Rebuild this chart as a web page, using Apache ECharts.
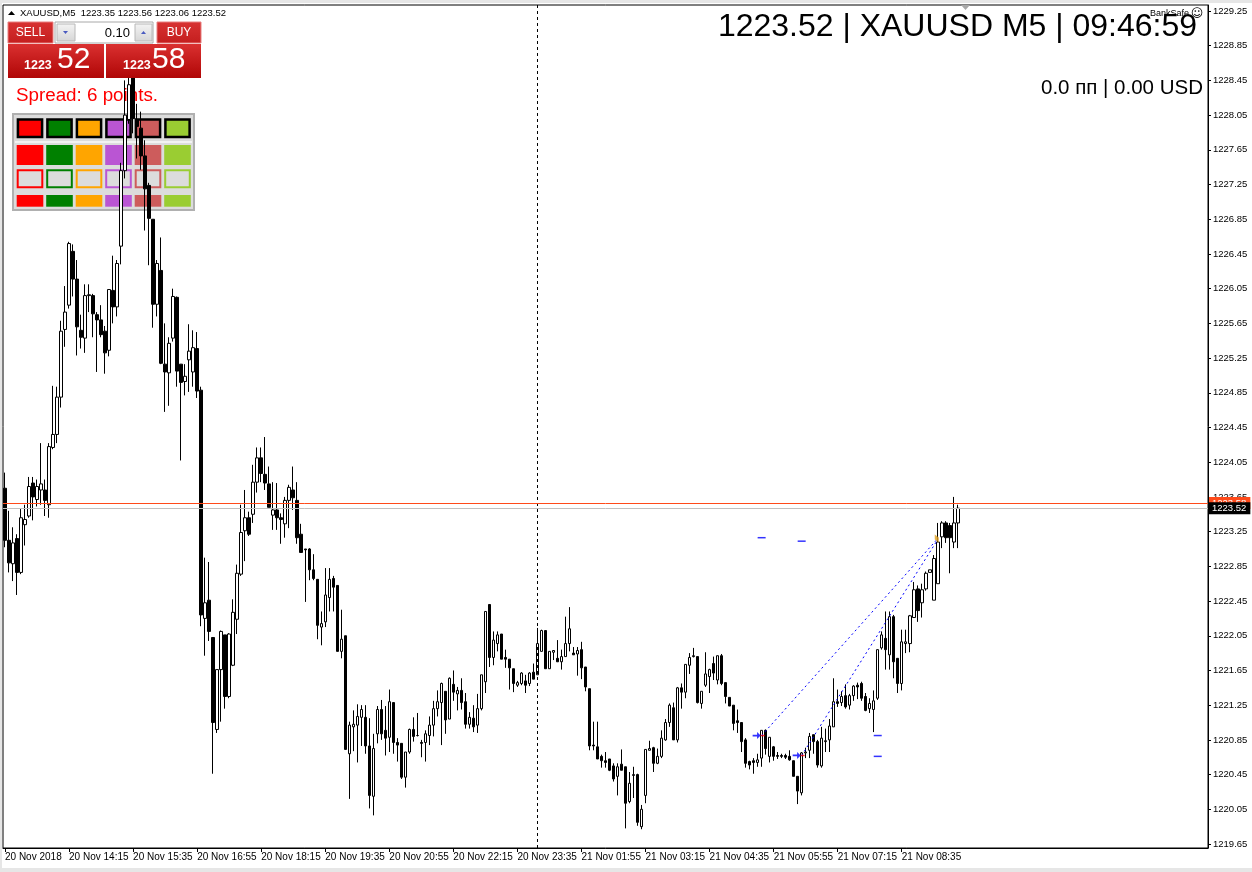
<!DOCTYPE html>
<html><head><meta charset="utf-8">
<script src="https://cdn.jsdelivr.net/npm/echarts@6/dist/echarts.min.js"></script>
<style>html,body{margin:0;padding:0;background:#fff;overflow:hidden}#c{width:1252px;height:872px}</style>
</head><body><div id="c"></div>
<script>
// ---- data ----
const opens = [1223.75,1223.15,1222.88,1223.17,1222.78,1223.33,1223.43,1223.81,1223.62,1223.73,
1223.73,1223.56,1224.22,1224.37,1224.80,1225.58,1225.86,1226.48,1226.16,1225.57,
1225.48,1225.97,1225.97,1225.75,1225.69,1225.56,1225.34,1226.03,1225.84,1226.54,
1227.41,1228.00,1228.50,1228.00,1227.90,1227.58,1227.24,1226.85,1225.87,1226.26,
1225.18,1225.08,1225.48,1225.95,1225.18,1224.98,1225.23,1225.09,1225.36,1224.88,
1222.25,1222.46,1222.03,1220.97,1221.66,1222.06,1221.35,1221.71,1222.24,1222.76,
1223.26,1223.41,1223.45,1223.82,1224.10,1223.91,1223.80,1223.44,1223.50,1223.41,
1223.34,1223.61,1223.73,1223.61,1223.22,1223.05,1223.05,1222.81,1222.70,1222.15,
1222.21,1222.49,1222.71,1222.63,1221.87,1222.05,1220.69,1221.00,1221.02,1221.11,
1221.11,1220.78,1220.20,1220.92,1221.20,1220.96,1220.88,1221.28,1220.82,1220.81,
1220.42,1220.71,1220.97,1220.90,1220.82,1220.82,1220.90,1221.02,1221.21,1221.28,
1221.41,1221.09,1221.49,1221.38,1221.42,1221.29,1221.03,1221.10,1221.02,1221.21,
1221.52,1222.41,1221.80,1221.96,1222.07,1221.80,1221.78,1221.67,1221.48,1221.50,
1221.53,1221.50,1221.63,1221.60,1221.87,1222.11,1221.67,1221.86,1221.79,1221.75,
1221.81,1221.96,1221.85,1221.84,1221.89,1221.69,1221.44,1220.79,1220.77,1220.66,
1220.61,1220.63,1220.55,1220.43,1220.57,1220.54,1220.14,1220.44,1220.45,1219.85,
1220.21,1220.73,1220.76,1220.58,1220.66,1220.85,1221.05,1221.22,1220.85,1221.45,
1221.40,1221.71,1221.81,1221.81,1221.27,1221.48,1221.58,1221.73,1221.54,1221.82,
1221.51,1221.34,1221.25,1221.07,1221.05,1220.85,1220.60,1220.61,1220.59,1220.64,
1220.96,1220.66,1220.77,1220.67,1220.67,1220.67,1220.66,1220.61,1220.43,1220.24,
1220.70,1220.73,1220.91,1220.83,1220.55,1220.83,1220.85,1221.00,1221.29,1221.28,
1221.36,1221.25,1221.36,1221.48,1221.50,1221.35,1221.21,1221.20,1221.33,1221.91,
1222.02,1221.83,1222.27,1221.79,1221.50,1221.96,1221.96,1222.26,1222.59,1222.43,
1222.59,1222.78,1222.46,1222.65,1223.19,1223.35,1223.32,1223.13,1223.35];
const highs = [1223.93,1223.49,1223.30,1223.22,1223.51,1223.56,1223.88,1223.88,1223.85,1224.27,
1223.85,1224.27,1224.93,1224.92,1225.68,1226.08,1226.59,1226.56,1226.38,1225.75,
1226.10,1226.10,1225.99,1225.78,1225.86,1225.62,1226.04,1226.43,1226.38,1227.50,
1228.45,1228.55,1228.55,1228.18,1228.09,1227.76,1227.27,1226.85,1226.38,1226.64,
1225.65,1225.49,1226.05,1225.96,1225.18,1225.18,1225.64,1225.57,1225.55,1224.92,
1222.95,1222.90,1222.03,1221.66,1222.11,1222.06,1222.08,1222.47,1222.87,1223.56,
1223.73,1223.48,1224.02,1224.22,1224.22,1224.34,1224.00,1223.82,1223.81,1223.46,
1223.65,1223.79,1224.00,1223.82,1223.34,1223.05,1223.06,1222.99,1222.70,1222.33,
1222.83,1222.83,1222.74,1222.63,1222.35,1222.05,1221.06,1221.19,1221.26,1221.25,
1221.25,1221.10,1220.92,1221.24,1221.31,1221.24,1221.43,1221.28,1220.87,1220.81,
1220.71,1220.98,1221.11,1221.16,1220.85,1220.96,1221.12,1221.30,1221.42,1221.51,
1221.41,1221.57,1221.65,1221.46,1221.56,1221.39,1221.17,1221.25,1221.38,1221.60,
1222.33,1222.41,1222.10,1222.10,1222.07,1221.89,1221.78,1221.67,1221.53,1221.63,
1221.60,1221.63,1221.73,1222.14,1222.12,1222.11,1221.87,1221.88,1222.00,1221.89,
1222.27,1222.38,1221.92,1221.92,1221.98,1221.69,1221.44,1221.06,1221.06,1220.68,
1220.71,1220.63,1220.58,1220.58,1220.74,1220.54,1220.48,1220.54,1220.46,1220.10,
1220.74,1220.84,1220.77,1220.75,1220.96,1221.09,1221.27,1221.28,1221.46,1221.50,
1221.72,1221.85,1221.91,1221.81,1221.41,1221.86,1221.67,1221.81,1221.82,1221.84,
1221.51,1221.34,1221.25,1221.20,1221.05,1220.87,1220.61,1220.64,1220.69,1220.96,
1220.97,1220.88,1220.78,1220.71,1220.69,1220.69,1220.73,1220.61,1220.43,1220.71,
1220.76,1220.93,1220.91,1220.85,1221.00,1220.98,1221.09,1221.56,1221.43,1221.41,
1221.49,1221.38,1221.48,1221.51,1221.52,1221.39,1221.33,1221.42,1221.89,1222.10,
1222.33,1222.33,1222.29,1221.79,1222.12,1222.12,1222.29,1222.67,1222.63,1222.65,
1222.79,1222.81,1222.98,1223.35,1223.37,1223.37,1223.35,1223.65,1223.56];
const lows = [1223.07,1222.78,1222.68,1222.52,1222.76,1223.09,1223.41,1223.38,1223.54,1223.56,
1223.43,1223.41,1224.20,1224.27,1224.68,1225.38,1225.82,1225.96,1225.28,1225.36,
1225.31,1225.78,1225.49,1225.09,1225.49,1225.07,1225.27,1225.65,1225.73,1226.33,
1227.32,1227.95,1227.84,1227.55,1227.42,1226.72,1226.32,1225.60,1225.73,1225.18,
1224.63,1224.70,1225.44,1224.92,1224.07,1224.82,1224.86,1224.92,1224.79,1222.16,
1221.82,1221.99,1220.46,1220.93,1221.06,1221.21,1221.33,1221.70,1222.07,1222.74,
1222.91,1223.20,1223.35,1223.70,1223.82,1223.73,1223.53,1223.27,1223.27,1223.11,
1223.18,1223.29,1223.50,1223.11,1223.01,1222.44,1222.69,1222.69,1222.01,1221.94,
1222.15,1222.33,1222.33,1221.87,1221.79,1220.74,1220.17,1220.72,1220.59,1220.78,
1220.69,1220.06,1219.98,1220.81,1220.85,1220.67,1220.71,1220.69,1220.60,1220.40,
1220.30,1220.69,1220.83,1220.89,1220.65,1220.60,1220.79,1220.89,1221.12,1220.79,
1220.92,1221.09,1221.30,1221.19,1221.20,1220.98,1220.98,1220.94,1220.93,1221.19,
1221.39,1221.69,1221.71,1221.87,1221.78,1221.68,1221.43,1221.40,1221.46,1221.48,
1221.39,1221.47,1221.55,1221.60,1221.87,1221.67,1221.67,1221.77,1221.75,1221.66,
1221.81,1221.87,1221.83,1221.59,1221.55,1221.41,1220.73,1220.73,1220.63,1220.53,
1220.53,1220.49,1220.37,1220.21,1220.50,1219.83,1220.12,1220.18,1219.86,1219.82,
1220.12,1220.73,1220.48,1220.57,1220.64,1220.84,1221.00,1220.85,1220.82,1221.21,
1221.33,1221.61,1221.80,1221.27,1221.21,1221.46,1221.39,1221.54,1221.49,1221.48,
1221.27,1221.24,1220.96,1220.93,1220.71,1220.53,1220.51,1220.46,1220.54,1220.54,
1220.68,1220.59,1220.61,1220.63,1220.64,1220.63,1220.61,1220.43,1220.11,1220.21,
1220.64,1220.64,1220.69,1220.53,1220.53,1220.71,1220.71,1221.00,1221.23,1221.24,
1221.21,1221.20,1221.30,1221.32,1221.30,1221.18,1221.16,1220.94,1221.31,1221.89,
1221.66,1221.66,1221.56,1221.39,1221.42,1221.85,1221.86,1222.26,1222.21,1222.26,
1222.57,1222.78,1222.46,1222.65,1223.06,1223.12,1222.77,1223.06,1223.06];
const closes = [1223.15,1222.89,1223.12,1222.78,1223.41,1223.39,1223.77,1223.65,1223.77,1223.80,
1223.61,1224.23,1224.37,1224.80,1225.56,1225.78,1226.57,1226.16,1225.61,1225.49,
1225.97,1225.98,1225.76,1225.69,1225.52,1225.31,1226.04,1225.84,1226.34,1227.41,
1228.05,1228.40,1228.01,1227.92,1227.58,1227.20,1226.86,1225.87,1226.34,1225.19,
1225.09,1225.42,1225.96,1225.10,1224.97,1225.04,1225.33,1225.37,1224.87,1222.29,
1222.43,1222.10,1221.05,1221.66,1222.10,1221.35,1222.07,1222.32,1222.77,1223.24,
1223.41,1223.22,1223.82,1224.10,1223.92,1223.81,1223.53,1223.50,1223.41,1223.39,
1223.61,1223.76,1223.64,1223.18,1223.01,1223.04,1222.81,1222.71,1222.17,1222.19,
1222.52,1222.70,1222.61,1221.87,1222.01,1220.74,1221.02,1221.03,1221.12,1221.20,
1220.78,1220.21,1220.75,1221.20,1220.92,1220.87,1221.29,1220.82,1220.79,1220.42,
1220.71,1220.97,1220.89,1220.90,1220.81,1220.92,1221.02,1221.21,1221.29,1221.50,
1221.08,1221.56,1221.40,1221.42,1221.28,1221.03,1221.11,1221.00,1221.21,1221.60,
1222.33,1221.80,1222.00,1222.06,1221.78,1221.78,1221.68,1221.50,1221.51,1221.62,
1221.48,1221.62,1221.55,1221.96,1222.11,1221.67,1221.87,1221.88,1221.75,1221.81,
1221.96,1222.13,1221.83,1221.88,1221.68,1221.46,1220.78,1220.78,1220.63,1220.61,
1220.59,1220.50,1220.40,1220.54,1220.50,1220.12,1220.35,1220.45,1219.90,1220.05,
1220.74,1220.75,1220.58,1220.66,1220.87,1221.05,1221.25,1220.85,1221.45,1221.40,
1221.72,1221.80,1221.82,1221.28,1221.41,1221.61,1221.66,1221.62,1221.82,1221.50,
1221.35,1221.24,1221.04,1221.05,1220.83,1220.58,1220.56,1220.59,1220.62,1220.96,
1220.75,1220.88,1220.66,1220.66,1220.66,1220.65,1220.62,1220.43,1220.26,1220.70,
1220.71,1220.89,1220.83,1220.56,1220.87,1220.84,1221.01,1221.29,1221.27,1221.35,
1221.23,1221.36,1221.47,1221.46,1221.33,1221.19,1221.27,1221.30,1221.89,1222.06,
1221.89,1222.27,1221.75,1221.50,1221.98,1221.98,1222.28,1222.58,1222.34,1222.58,
1222.77,1222.81,1222.94,1223.13,1223.35,1223.18,1223.18,1223.35,1223.52];
const xTickLabels = ['20 Nov 2018','20 Nov 14:15','20 Nov 15:35','20 Nov 16:55','20 Nov 18:15',
'20 Nov 19:35','20 Nov 20:55','20 Nov 22:15','20 Nov 23:35','21 Nov 01:55','21 Nov 03:15',
'21 Nov 04:35','21 Nov 05:55','21 Nov 07:15','21 Nov 08:35'];
const xTickStep = 16;
const yTicks = [1219.65,1220.05,1220.45,1220.85,1221.25,1221.65,1222.05,1222.45,1222.85,1223.25,
1223.65,1224.05,1224.45,1224.85,1225.25,1225.65,1226.05,1226.45,1226.85,1227.25,1227.65,
1228.05,1228.45,1228.85,1229.25];
const totalSlots = 301;            // bar slots across the chart width (chart shift on the right)
const bidPrice = 1223.52, askPrice = 1223.58;
const separatorIndex = 133;        // day separator
const tradeOpenIdx = [189, 199], tradeOpenPrice = [1220.90, 1220.67];
const tradeCloseIdx = [233, 233], tradeClosePrice = [1223.17, 1223.16];
const levelMarks = [[189, 1223.18], [199, 1223.14], [218, 1220.90], [218, 1220.66]];
const symbolName = 'XAUUSD', timeframe = 'M5', clock = '09:46:59';
const sellPrice = {big: '1223', small: '52'}, buyPrice = {big: '1223', small: '58'};
const lotSize = '0.10', spreadPoints = 6;
const panelColors = ['#FF0000','#008000','#FFA500','#BA55D3','#CD5C5C','#9ACD32'];

// ---- chart ----
const chart = echarts.init(document.getElementById('c'), null, {renderer: 'canvas'});
const cats = [];
for (let i = 0; i < totalSlots; i++) cats.push(String(i));
const candleData = opens.map((o, i) => [o, closes[i], lows[i], highs[i]]);
const last = opens.length - 1;
const showTick = (idx) => idx % xTickStep === 0 && idx / xTickStep < xTickLabels.length;
const FONT = 'Liberation Sans';

const tradeSeries = tradeOpenIdx.map((o, k) => ({
  type: 'line', xAxisIndex: 1, yAxisIndex: 0, symbol: 'none', silent: true, z: 4,
  data: [[o, tradeOpenPrice[k]], [tradeCloseIdx[k], tradeClosePrice[k]]],
  lineStyle: {color: '#0000FF', width: 1, type: [2, 3]}
}));

const graphics = [];
// window frame
graphics.push({type: 'rect', shape: {x: 0, y: 0, width: 1252, height: 3}, style: {fill: '#E6E6E6'}, z: 30});
graphics.push({type: 'rect', shape: {x: 0, y: 0, width: 2, height: 872}, style: {fill: '#E6E6E6'}, z: 30});
graphics.push({type: 'rect', shape: {x: 0, y: 868, width: 1252, height: 4}, style: {fill: '#E6E6E6'}, z: 30});
// top-left header
graphics.push({type: 'polygon', shape: {points: [[8, 15], [15, 15], [11.5, 11]]}, style: {fill: '#000'}, z: 20});
graphics.push({type: 'text', x: 20, y: 13, z: 20, style: {
  text: symbolName + ',' + timeframe + '  ' + opens[last].toFixed(2) + ' ' + highs[last].toFixed(2) + ' ' + lows[last].toFixed(2) + ' ' + closes[last].toFixed(2),
  fill: '#000', font: '9.5px "' + FONT + '"', verticalAlign: 'middle'}});
// sell / buy panel
const redGrad = new echarts.graphic.LinearGradient(0, 0, 0, 1, [{offset: 0, color: '#DA3030'}, {offset: 1, color: '#B00606'}]);
const btnGrad = new echarts.graphic.LinearGradient(0, 0, 0, 1, [{offset: 0, color: '#D83232'}, {offset: 1, color: '#C41E1E'}]);
const grayGrad = new echarts.graphic.LinearGradient(0, 0, 0, 1, [{offset: 0, color: '#F4F4F4'}, {offset: 1, color: '#D6D6D6'}]);
graphics.push({type: 'rect', shape: {x: 8, y: 22, width: 45, height: 21}, style: {fill: btnGrad, stroke: '#E88080', lineWidth: 1}, z: 20});
graphics.push({type: 'text', x: 30.5, y: 33, z: 21, style: {text: 'SELL', fill: '#fff', font: '12px "' + FONT + '"', align: 'center', verticalAlign: 'middle'}});
graphics.push({type: 'rect', shape: {x: 55, y: 22, width: 98, height: 21}, style: {fill: '#fff', stroke: '#A8A8A8', lineWidth: 1}, z: 20});
graphics.push({type: 'rect', shape: {x: 57, y: 24, width: 18, height: 17}, style: {fill: grayGrad, stroke: '#B8B8B8', lineWidth: 1}, z: 21});
graphics.push({type: 'polygon', shape: {points: [[63, 31], [68, 31], [65.5, 34]]}, style: {fill: '#4A5AC0'}, z: 22});
graphics.push({type: 'rect', shape: {x: 135, y: 24, width: 17, height: 17}, style: {fill: grayGrad, stroke: '#B8B8B8', lineWidth: 1}, z: 21});
graphics.push({type: 'polygon', shape: {points: [[141, 34], [146, 34], [143.5, 31]]}, style: {fill: '#4A5AC0'}, z: 22});
graphics.push({type: 'text', x: 130, y: 33, z: 21, style: {text: lotSize, fill: '#000', font: '13px "' + FONT + '"', align: 'right', verticalAlign: 'middle'}});
graphics.push({type: 'rect', shape: {x: 157, y: 22, width: 44, height: 21}, style: {fill: btnGrad, stroke: '#E88080', lineWidth: 1}, z: 20});
graphics.push({type: 'text', x: 179, y: 33, z: 21, style: {text: 'BUY', fill: '#fff', font: '12px "' + FONT + '"', align: 'center', verticalAlign: 'middle'}});
graphics.push({type: 'rect', shape: {x: 8, y: 44, width: 96, height: 34}, style: {fill: redGrad}, z: 20});
graphics.push({type: 'rect', shape: {x: 106, y: 44, width: 95, height: 34}, style: {fill: redGrad}, z: 20});
graphics.push({type: 'text', x: 24, y: 72, z: 21, style: {text: sellPrice.big, fill: '#fff', font: 'bold 12.5px "' + FONT + '"', verticalAlign: 'bottom'}});
graphics.push({type: 'text', x: 57, y: 75, z: 21, style: {text: sellPrice.small, fill: '#fff', font: '30px "' + FONT + '"', verticalAlign: 'bottom'}});
graphics.push({type: 'text', x: 123, y: 72, z: 21, style: {text: buyPrice.big, fill: '#fff', font: 'bold 12.5px "' + FONT + '"', verticalAlign: 'bottom'}});
graphics.push({type: 'text', x: 152, y: 75, z: 21, style: {text: buyPrice.small, fill: '#fff', font: '30px "' + FONT + '"', verticalAlign: 'bottom'}});
// spread text (below candles)
graphics.push({type: 'text', x: 16, y: 96, z: 1, style: {text: 'Spread: ' + spreadPoints + ' points.', fill: '#FF0000', font: '18.8px "' + FONT + '"', verticalAlign: 'middle'}});
// colour panel (below candles)
graphics.push({type: 'rect', shape: {x: 13, y: 114, width: 181, height: 96}, style: {fill: '#DCDCDC', stroke: '#B0B0B0', lineWidth: 2}, z: 1});
graphics.push({type: 'line', shape: {x1: 15, y1: 142, x2: 192, y2: 142}, style: {stroke: '#F2F2F2', lineWidth: 2}, z: 1});
panelColors.forEach((c, k) => {
  const x = 16.7 + k * 29.5;
  graphics.push({type: 'rect', shape: {x: x + 1.2, y: 119.5, width: 24.2, height: 17.6}, style: {fill: c, stroke: '#000', lineWidth: 2.5}, z: 1});
  graphics.push({type: 'rect', shape: {x: x, y: 145, width: 26.6, height: 20}, style: {fill: c}, z: 1});
  graphics.push({type: 'rect', shape: {x: x + 1, y: 170.3, width: 24.6, height: 17}, style: {fill: '#DCDCDC', stroke: c, lineWidth: 2}, z: 1});
  graphics.push({type: 'rect', shape: {x: x, y: 195, width: 26.6, height: 11.7}, style: {fill: c}, z: 1});
});
// right header texts
graphics.push({type: 'text', x: 1197, y: 27, z: 20, style: {
  text: closes[last].toFixed(2) + ' | ' + symbolName + ' ' + timeframe + ' | ' + clock,
  fill: '#000', font: '32px "' + FONT + '"', align: 'right', verticalAlign: 'middle'}});
graphics.push({type: 'text', x: 1203, y: 88, z: 20, style: {text: '0.0 пп | 0.00 USD', fill: '#000', font: '20.5px "' + FONT + '"', align: 'right', verticalAlign: 'middle'}});
graphics.push({type: 'text', x: 1150, y: 14, z: 21, style: {text: 'BankSafe', fill: '#000', font: '9px "' + FONT + '"', verticalAlign: 'middle'}});
graphics.push({type: 'text', x: 1197, y: 14, z: 21, style: {text: '☺', fill: '#000', font: '12px "DejaVu Sans"', align: 'center', verticalAlign: 'middle'}});
graphics.push({type: 'polygon', shape: {points: [[961, 5], [970, 5], [965.5, 10]]}, style: {fill: '#A8A8A8'}, z: 20});

const option = {
  animation: false,
  backgroundColor: '#fff',
  grid: {left: 3, right: 44, top: 5, bottom: 24, show: true, borderColor: '#000', borderWidth: 1, backgroundColor: 'transparent'},
  xAxis: [{
    type: 'category', data: cats, boundaryGap: true,
    axisLine: {show: true, lineStyle: {color: '#000', width: 1}},
    axisTick: {show: true, alignWithLabel: true, interval: showTick, length: 4, lineStyle: {color: '#000'}},
    axisLabel: {show: true, interval: showTick, align: 'left', margin: 4, color: '#000', fontSize: 10, fontFamily: FONT,
      formatter: (v, idx) => xTickLabels[idx / xTickStep] || ''},
    splitLine: {show: false}
  }, {
    type: 'value', min: -0.5, max: totalSlots - 0.5, show: false
  }],
  yAxis: [{
    type: 'value', position: 'right', min: 1219.604, max: 1229.319, scale: true,
    axisLine: {show: true, onZero: false, lineStyle: {color: '#000', width: 1}},
    axisTick: {show: true, length: 3, customValues: yTicks, lineStyle: {color: '#000'}},
    axisLabel: {show: true, customValues: yTicks, margin: 5, color: '#000', fontSize: 9.5, fontFamily: FONT,
      formatter: (v) => Number(v).toFixed(2)},
    splitLine: {show: false}
  }],
  graphic: {elements: graphics},
  series: [{
    type: 'candlestick', data: candleData, barWidth: 3, z: 3, silent: true,
    itemStyle: {color: '#FFFFFF', color0: '#000000', borderColor: '#000000', borderColor0: '#000000', borderWidth: 1},
    markLine: {
      silent: true, symbol: ['none', 'none'], animation: false, precision: 2,
      data: [
        {xAxis: separatorIndex, lineStyle: {color: '#000', type: [3, 3], width: 1}, label: {show: false}},
        {yAxis: askPrice, lineStyle: {color: '#FF4A1A', type: 'solid', width: 1},
          label: {show: true, position: 'end', distance: 1, formatter: askPrice.toFixed(2), color: '#fff', backgroundColor: '#FF4A1A', padding: [1, 4, 1, 3], fontSize: 9.5, fontFamily: FONT}},
        {yAxis: bidPrice, lineStyle: {color: '#C0C0C0', type: 'solid', width: 1},
          label: {show: true, position: 'end', distance: 1, formatter: bidPrice.toFixed(2), color: '#fff', backgroundColor: '#000', padding: [1, 4, 1, 3], fontSize: 9.5, fontFamily: FONT}}
      ]
    }
  },
  ...tradeSeries,
  {
    type: 'scatter', xAxisIndex: 1, silent: true, z: 5,
    data: tradeOpenIdx.map((o, k) => [o, tradeOpenPrice[k]]),
    symbol: 'path://M0,3 L5,3 L5,0 L9,4 L5,8 L5,5 L0,5 Z', symbolSize: [8, 7], symbolOffset: [-5, 0],
    itemStyle: {color: '#0000FF'}
  }, {
    type: 'scatter', xAxisIndex: 1, silent: true, z: 5,
    data: tradeOpenIdx.map((o, k) => [o, tradeOpenPrice[k]]),
    symbol: 'rect', symbolSize: [4, 1.5], symbolOffset: [1, 0], itemStyle: {color: '#FF0000'}
  }, {
    type: 'scatter', xAxisIndex: 1, silent: true, z: 5,
    data: [[tradeCloseIdx[0], tradeClosePrice[0]]],
    symbol: 'path://M0,0 L3,3 L3,8 L0,5 Z', symbolSize: [4, 8], symbolOffset: [-1, 0],
    itemStyle: {color: '#E0A020'}
  }, {
    type: 'scatter', xAxisIndex: 1, silent: true, z: 5,
    data: levelMarks, symbol: 'rect', symbolSize: [8, 1.5], itemStyle: {color: '#0000FF'}
  }]
};
chart.setOption(option);
</script>
</body></html>
